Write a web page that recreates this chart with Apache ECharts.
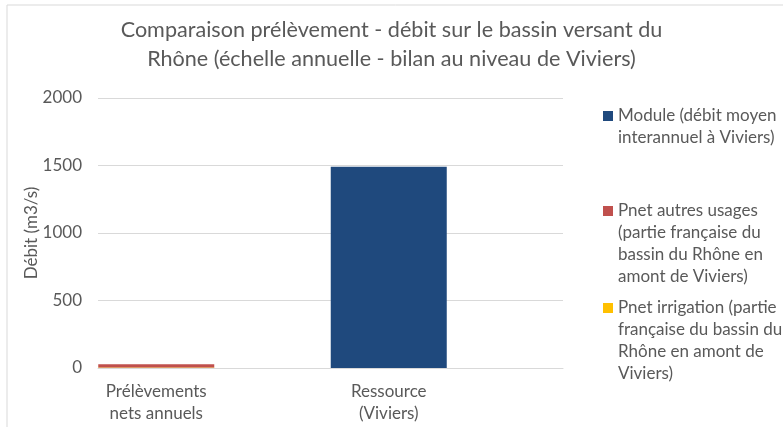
<!DOCTYPE html>
<html>
<head>
<meta charset="utf-8">
<script src="https://cdn.jsdelivr.net/npm/echarts@6/dist/echarts.min.js"></script>
<style>
  html, body { margin: 0; padding: 0; background: #fff; }
  #chart { width: 783px; height: 427px; }
</style>
</head>
<body>
<div id="chart"></div>
<script>
// categories
const categories = ['Prélèvements\nnets annuels', 'Ressource\n(Viviers)'];

// series (ordre d'empilement : du bas vers le haut)
const seriesNames = [
  'Pnet irrigation (partie française du bassin du Rhône en amont de Viviers)',
  'Pnet autres usages (partie française du bassin du Rhône en amont de Viviers)',
  'Module (débit moyen interannuel à Viviers)'
];
const legendLabels = [
  'Pnet irrigation (partie\nfrançaise du bassin du\nRhône en amont de\nViviers)',
  'Pnet autres usages\n(partie française du\nbassin du Rhône en\namont de Viviers)',
  'Module (débit moyen\ninterannuel à Viviers)'
];
const irrigation = [3, null];
const autresUsages = [25, null];
const module = [null, 1490];

// axe Y
const yMin = 0, yMax = 2000, yStep = 500;

const colors = ['#FFC000', '#C0504D', '#1F497D'];
const values = [irrigation, autresUsages, module];

const txt = '#595959';
const font = 'Lato';
const fs = 17;

let myChart = echarts.init(document.getElementById('chart'));

// legende : icone alignee sur la 1re ligne du texte
function legendFor(i, top) {
  let nLines = legendLabels[i].split('\n').length;
  let h = 10 + (nLines - 1) * 22;
  return {
    data: [seriesNames[i]],
    left: 603,
    top: top,
    padding: 0,
    itemWidth: 10,
    itemHeight: h,
    icon: 'path://M0,0L10,0L10,10L0,10Z M0,' + h + 'L0.01,' + h,
    formatter: function () { return legendLabels[i]; },
    textStyle: { color: txt, fontFamily: font, fontSize: fs, lineHeight: 22 },
    selectedMode: false
  };
}

let series = values.map(function (v, i) {
  return {
    name: seriesNames[i],
    type: 'bar',
    stack: 'total',
    data: v,
    barWidth: 116,
    barGap: 0,
    itemStyle: { color: colors[i] }
  };
});
// emplacement vide a droite de chaque barre (comme dans le graphique d'origine)
series.push({ name: 'vide', type: 'bar', stack: 'vide', data: [], barWidth: 116, barGap: 0 });

let option = {
  animation: false,
  backgroundColor: '#fff',
  textStyle: { fontFamily: font },
  title: {
    text: 'Comparaison prélèvement - débit sur le bassin versant du\nRhône (échelle annuelle - bilan au niveau de Viviers)',
    left: 'center',
    top: 16,
    padding: 0,
    textStyle: { color: txt, fontFamily: font, fontSize: 21.6, fontWeight: 'normal', lineHeight: 29 }
  },
  graphic: [{
    type: 'rect',
    shape: { x: 7, y: 5, width: 900, height: 600 },
    style: { fill: 'none', stroke: '#D9D9D9', lineWidth: 1 },
    silent: true
  }],
  legend: [legendFor(2, 105), legendFor(1, 200), legendFor(0, 297)],
  grid: { left: 98, right: 220, top: 98, bottom: 59, containLabel: false },
  xAxis: {
    type: 'category',
    data: categories,
    axisLine: { lineStyle: { color: '#D9D9D9' } },
    axisTick: { show: false },
    axisLabel: {
      color: txt, fontFamily: font, fontSize: fs, lineHeight: 22,
      margin: 13, interval: 0, padding: [0, 116, 0, 0]
    }
  },
  yAxis: {
    type: 'value',
    min: yMin, max: yMax, interval: yStep,
    name: 'Débit (m3/s)',
    nameLocation: 'middle',
    nameGap: 58,
    nameMoveOverlap: false,
    nameTextStyle: { color: txt, fontFamily: font, fontSize: fs },
    axisLine: { show: false },
    axisTick: { show: false },
    axisLabel: {
      color: txt, fontFamily: font, fontSize: fs, margin: 16,
      formatter: function (v) { return String(v); }
    },
    splitLine: { lineStyle: { color: '#D9D9D9' } }
  },
  series: series
};

myChart.setOption(option);
</script>
</body>
</html>
